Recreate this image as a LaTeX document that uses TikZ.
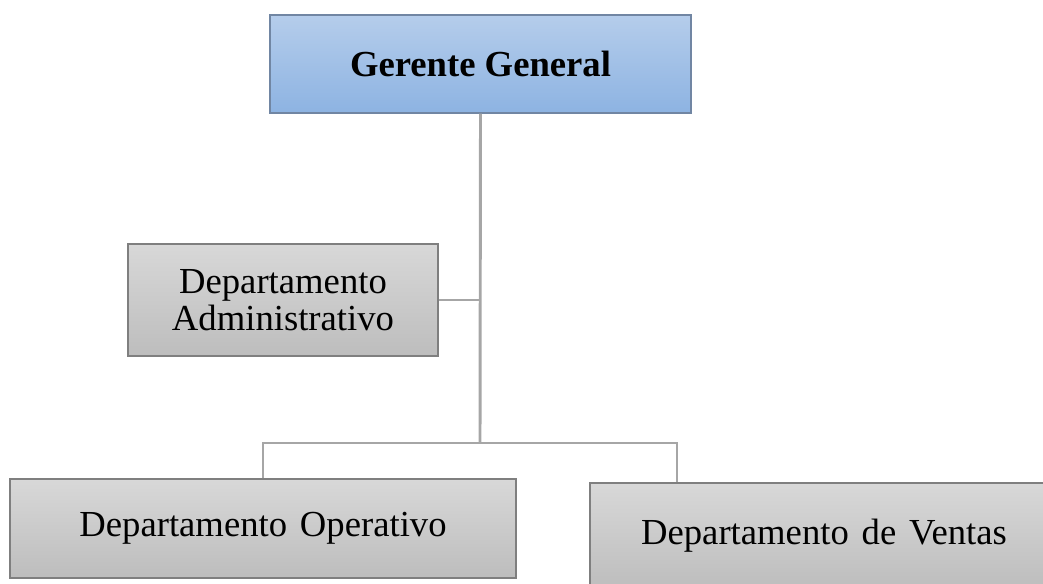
\documentclass[tikz,border=0pt]{standalone}
\usepackage{fontspec}
\setmainfont{Liberation Serif}
\definecolor{bluetop}{HTML}{B5CDEB}
\definecolor{bluebot}{HTML}{8DB3E2}
\definecolor{blueedge}{HTML}{7186A3}
\definecolor{graytop}{HTML}{D8D8D8}
\definecolor{graybot}{HTML}{BDBDBD}
\definecolor{grayedge}{HTML}{7F7F7F}
\definecolor{linkc}{HTML}{A6A6A6}
\tikzset{
  orgbox/.style={draw=grayedge, line width=1.1pt, top color=graytop, bottom color=graybot,
    inner sep=0pt, align=center, font=\fontsize{27.5}{28}\selectfont},
  headbox/.style={orgbox, draw=blueedge, top color=bluetop, bottom color=bluebot,
    font=\fontsize{27.5}{28}\selectfont\bfseries},
  link/.style={draw=linkc, line width=2.2pt}
}
\begin{document}
\begin{tikzpicture}[x=0.75pt,y=-0.75pt]
\useasboundingbox (0,0) rectangle (1043,583);
\clip (0,0) rectangle (1043,583);
\node[headbox, minimum width=421*0.75pt, minimum height=98*0.75pt] (top) at (480.5,64) {Gerente General};
\node[orgbox, minimum width=310*0.75pt, minimum height=112*0.75pt] (admin) at (283,300) {Departamento\\Administrativo};
\node[orgbox, minimum width=506*0.75pt, minimum height=99*0.75pt] (oper) at (263,528.5) {Departamento\hspace{0.35em}Operativo};
\node[orgbox, minimum width=468*0.75pt, minimum height=106*0.75pt] (ventas) at (824,536) {Departamento\hspace{0.35em}de\hspace{0.35em}Ventas};
\coordinate (bus) at (480,443);
\coordinate (busL) at (263,443);
\coordinate (busR) at (677,443);
\coordinate (adminJ) at (480,300);
\draw[link] (top.south) -- (bus);
\draw[link] (admin.east) -- (adminJ);
\draw[link] (oper.north) -- (busL) -- (busR) -- (busR |- ventas.north);
\end{tikzpicture}
\end{document}
